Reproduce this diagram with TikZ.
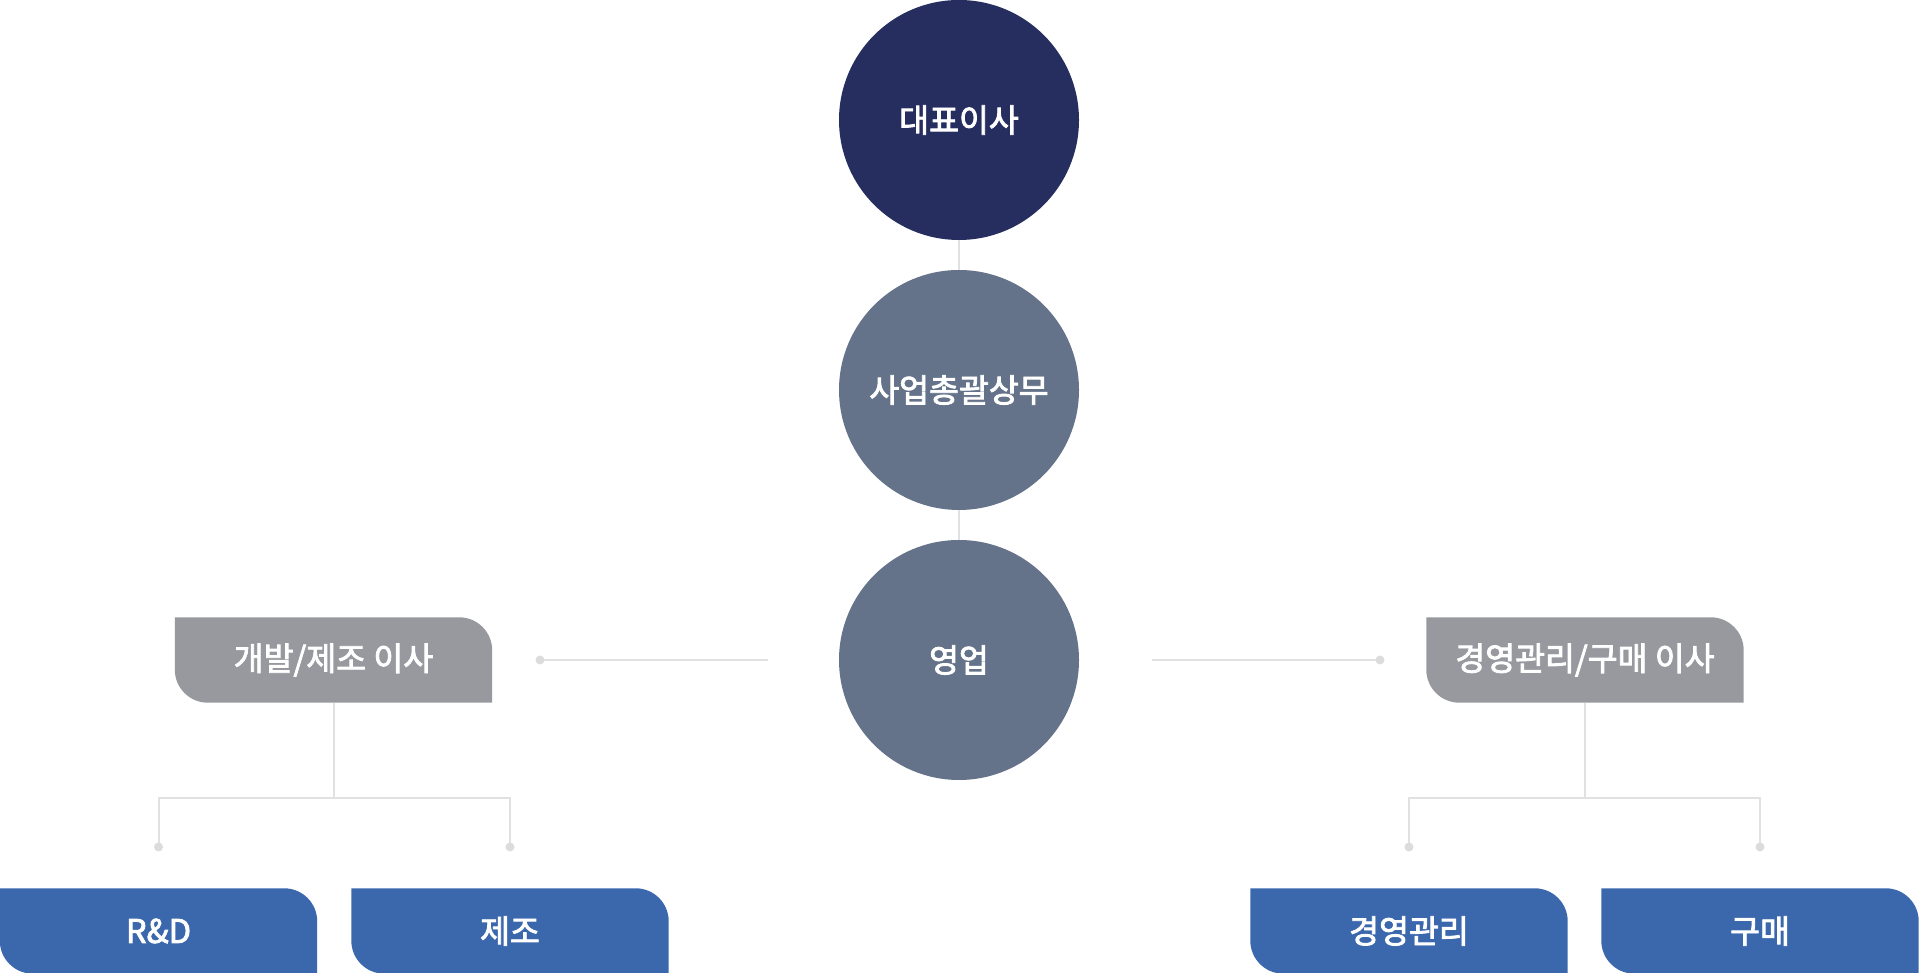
\documentclass[tikz,border=0pt]{standalone}
\usepackage{fontspec}
\newfontfamily\kr{Noto Sans CJK KR}[FakeBold=2.6]
\usetikzlibrary{backgrounds}
\definecolor{navy}{HTML}{252E5F}
\definecolor{slate}{HTML}{64738A}
\definecolor{tabgray}{HTML}{97999E}
\definecolor{tabblue}{HTML}{3B68AD}
\definecolor{lnc}{HTML}{E1E1E1}
\definecolor{dotc}{HTML}{DCDCDC}
\newcommand\tabfill[2]{%
  \fill[#2] (#1.north west) -- ([xshift=-33pt]#1.north east)
    arc[start angle=90,end angle=0,radius=33pt] -- (#1.south east)
    -- ([xshift=33pt]#1.south west)
    arc[start angle=270,end angle=180,radius=33pt] -- cycle;}
\begin{document}
\begin{tikzpicture}[x=1pt,y=1pt,
  lbl/.style={text=white,font=\kr\fontsize{32.5}{38}\selectfont},
  circ/.style={lbl,circle,minimum size=240pt,inner sep=0pt},
  tab/.style={lbl,rectangle,minimum width=317pt,minimum height=85pt,inner sep=0pt},
  ln/.style={draw=lnc,line width=2pt},
  dotmark/.style={fill=dotc}]
\useasboundingbox (0,0) rectangle (1920,973);
\node[circ,fill=navy] (ceo) at (959,853) {대표이사};
\node[circ,fill=slate] (gm) at (959,583) {사업총괄상무};
\node[circ,fill=slate] (sales) at (959,313) {영업};
\node[tab] (dev) at (333.5,313) {개발/제조 이사};
\node[tab] (mgmt) at (1585,313) {경영관리/구매 이사};
\node[tab] (rd) at (158.5,42) {R\&D};
\node[tab] (mfg) at (510,42) {제조};
\node[tab] (adm) at (1409,42) {경영관리};
\node[tab] (buy) at (1760,42) {구매};
\begin{pgfonlayer}{background}
\tabfill{dev}{tabgray}
\tabfill{mgmt}{tabgray}
\tabfill{rd}{tabblue}
\tabfill{mfg}{tabblue}
\tabfill{adm}{tabblue}
\tabfill{buy}{tabblue}
\end{pgfonlayer}
\draw[ln] (ceo) -- (gm);
\draw[ln] (gm) -- (sales);
\coordinate (ldot) at (540,313);
\coordinate (lend) at (768,313);
\coordinate (rend) at (1152,313);
\coordinate (rdot) at (1380,313);
\draw[ln] (ldot) -- (lend);
\draw[ln] (rend) -- (rdot);
\coordinate (j1) at (333.5,175);
\coordinate (d1) at (158.5,126);
\coordinate (d2) at (510,126);
\coordinate (j2) at (1585,175);
\coordinate (d3) at (1409,126);
\coordinate (d4) at (1760,126);
\draw[ln] (dev.south) -- (j1);
\draw[ln] (d1) |- (j1) -| (d2);
\draw[ln] (mgmt.south) -- (j2);
\draw[ln] (d3) |- (j2) -| (d4);
\foreach \d in {ldot,rdot,d1,d2,d3,d4}
  \fill[dotmark] (\d) circle (4.5pt);
\end{tikzpicture}
\end{document}
